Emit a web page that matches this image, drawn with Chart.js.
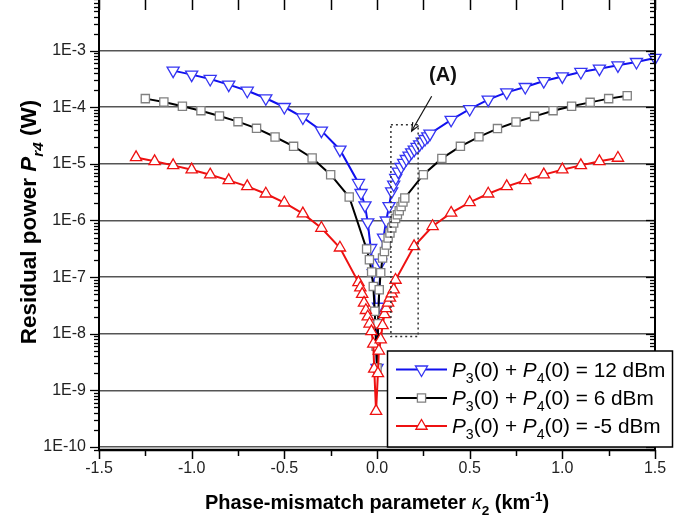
<!DOCTYPE html>
<html><head><meta charset="utf-8">
<script src="https://cdn.jsdelivr.net/npm/chart.js@4.4.1/dist/chart.umd.min.js"></script>
<style>
html,body{margin:0;padding:0;background:#fff;overflow:hidden;width:695px;height:520px;}
#wrap{position:absolute;left:0;top:-6px;width:695px;height:526px;}
</style></head><body>
<div id="wrap"><canvas id="c" width="695" height="526"></canvas></div>
<script>
// ---------- data ----------
const blueX = [-1.1,-1.0,-0.9,-0.8,-0.7,-0.6,-0.5,-0.4,-0.3,-0.2,-0.1,-0.086,-0.065,-0.05,-0.034,-0.02,-0.008,0.0,
  0.008,0.02,0.035,0.05,0.065,0.079,0.09,0.101,0.115,0.13,0.144,0.158,0.173,0.187,0.201,0.216,0.23,0.244,0.259,0.274,0.286,
  0.4,0.5,0.6,0.7,0.8,0.9,1.0,1.1,1.2,1.3,1.4,1.5];
const blueY = [4.43e-4,3.77e-4,3.16e-4,2.51e-4,1.96e-4,1.44e-4,1.01e-4,6.6e-5,3.86e-5,1.78e-5,4.6e-6,3.06e-6,1.85e-6,9.25e-7,3.27e-7,1.18e-7,2.0e-8,2.5e-9,
  3.0e-8,1.8e-7,5.0e-7,1.0e-6,1.8e-6,3.27e-6,4.3e-6,5.64e-6,7.28e-6,8.8e-6,1.04e-5,1.22e-5,1.40e-5,1.60e-5,1.78e-5,1.99e-5,2.21e-5,2.47e-5,2.75e-5,3.06e-5,3.42e-5,
  6.0e-5,9.3e-5,1.36e-4,1.83e-4,2.28e-4,2.9e-4,3.5e-4,4.2e-4,4.8e-4,5.5e-4,6.3e-4,7.43e-4];

const blackX = [-1.25,-1.15,-1.05,-0.95,-0.85,-0.75,-0.65,-0.55,-0.45,-0.35,-0.25,-0.15,-0.056,-0.041,-0.029,-0.02,-0.012,-0.005,0.0,
  0.005,0.012,0.02,0.03,0.04,0.05,0.06,0.07,0.08,0.09,0.10,0.11,0.12,0.13,0.14,0.15,
  0.25,0.35,0.45,0.55,0.65,0.75,0.85,0.95,1.05,1.15,1.25,1.35];
const blackY = [1.42e-4,1.24e-4,1.04e-4,8.7e-5,7.0e-5,5.57e-5,4.24e-5,2.98e-5,2.04e-5,1.27e-5,6.44e-6,2.6e-6,3.13e-7,2.03e-7,1.23e-7,6.86e-8,2.5e-8,6.0e-9,2.5e-9,
  1.5e-8,6.0e-8,1.2e-7,2.17e-7,2.84e-7,3.7e-7,4.9e-7,6.0e-7,7.4e-7,9.0e-7,1.08e-6,1.26e-6,1.49e-6,1.77e-6,2.12e-6,2.5e-6,
  6.44e-6,1.25e-5,2.04e-5,3.0e-5,4.2e-5,5.5e-5,6.9e-5,8.7e-5,1.04e-4,1.22e-4,1.42e-4,1.6e-4];

const redX = [-1.3,-1.2,-1.1,-1.0,-0.9,-0.8,-0.7,-0.6,-0.5,-0.4,-0.3,-0.2,-0.1,-0.09,-0.08,-0.07,-0.06,-0.05,-0.04,-0.03,-0.02,-0.015,-0.005,
  0.005,0.01,0.02,0.03,0.04,0.05,0.06,0.07,0.08,0.09,0.1,0.2,0.3,0.4,0.5,0.6,0.7,0.8,0.9,1.0,1.1,1.2,1.3];
const redY = [1.30e-5,1.11e-5,9.4e-6,7.9e-6,6.44e-6,5.12e-6,4.01e-6,2.97e-6,2.06e-6,1.32e-6,7.36e-7,3.30e-7,8.1e-8,6.5e-8,5.0e-8,3.5e-8,2.6e-8,2.0e-8,1.5e-8,1.1e-8,6.6e-9,2.4e-9,4.3e-10,
  2.0e-9,5.0e-9,7.9e-9,1.4e-8,2.2e-8,2.8e-8,3.5e-8,4.3e-8,5.1e-8,6.0e-8,8.9e-8,3.5e-7,7.9e-7,1.36e-6,2.09e-6,2.97e-6,4.0e-6,5.1e-6,6.45e-6,7.9e-6,9.4e-6,1.11e-5,1.27e-5];

const seriesPower = ['12', '6', '-5'];          // P3(0)+P4(0) in dBm
const xTicks = [-1.5,-1.0,-0.5,0.0,0.5,1.0,1.5];
const xMinorTicks = [-1.25,-0.75,-0.25,0.25,0.75,1.25];
const yTicks = [1e-10,1e-9,1e-8,1e-7,1e-6,1e-5,1e-4,1e-3];

// annotation (data space)
const boxA = {x0:0.075, x1:0.222, y0:8.9e-9, y1:4.9e-5};
const arrowA = {x0:0.295, y0:1.56e-4, x1:0.187, y1:3.8e-5};
const labelA = {x:0.356, y:3.6e-4, text:'(A)'};

// ---------- style ----------
const FONT = "'Liberation Sans', Arial, Helvetica, sans-serif";
Chart.defaults.font.family = FONT;
const OFF = 6; // canvas y = page y + OFF
const BLUE = '#1010ee', BLUE_M = '#3535f2';
const RED = '#ee1111';
const BLACK = '#000000', GRAY_M = '#808080';

const styles = [
  {line: BLUE, mark: BLUE_M, pointStyle:'triangle', rotation:180, radius:7},
  {line: BLACK, mark: GRAY_M, pointStyle:'rect', rotation:0, radius:5.8},
  {line: RED, mark: RED, pointStyle:'triangle', rotation:0, radius:6.5}
];

function pts(xs, ys){ return xs.map((x,i)=>({x:x, y:ys[i]})); }
function mkDs(label, xs, ys, st, order){
  return {label, data:pts(xs,ys), borderColor:st.line, borderWidth:2, backgroundColor:'#fff',
    pointStyle:st.pointStyle, pointRotation:st.rotation, pointRadius:st.radius, pointBorderColor:st.mark,
    pointBackgroundColor:'#fff', pointBorderWidth:1.3, pointHoverRadius:st.radius, tension:0, clip:false, order};
}

function drawRich(ctx, segs, x, y, size, align){
  const parts = segs.map(s=>{
    const small = s.sub || s.sup;
    const fs = small ? size*0.68 : size;
    const font = (s.i?'italic ':'') + (s.b?'bold ':'') + fs.toFixed(1) + 'px ' + FONT;
    ctx.font = font;
    const w = ctx.measureText(s.t).width;
    const dy = s.sub ? size*0.3 : (s.sup ? -size*0.4 : 0);
    return {t:s.t, font, w, dy};
  });
  const total = parts.reduce((a,p)=>a+p.w,0);
  let cx = align==='center' ? x-total/2 : x;
  ctx.textAlign='left'; ctx.textBaseline='alphabetic';
  for(const p of parts){ ctx.font=p.font; ctx.fillText(p.t,cx,y+p.dy); cx+=p.w; }
  return total;
}

const decor = {
  id:'decor',
  afterDraw(chart){
    const ctx = chart.ctx, ca = chart.chartArea, xs = chart.scales.x, ys = chart.scales.y;
    const L=ca.left, R=ca.right, T=ca.top, B=ca.bottom;
    ctx.save();
    // axis lines
    ctx.strokeStyle='#000'; ctx.lineCap='butt';
    ctx.lineWidth=2;
    ctx.beginPath(); ctx.moveTo(L,T); ctx.lineTo(L,B+1); ctx.stroke();
    ctx.beginPath(); ctx.moveTo(R,T); ctx.lineTo(R,B+1); ctx.stroke();
    ctx.lineWidth=2.5;
    ctx.beginPath(); ctx.moveTo(L-1,B); ctx.lineTo(R+1,B); ctx.stroke();
    ctx.lineWidth=2;
    ctx.beginPath(); ctx.moveTo(L,T); ctx.lineTo(R,T); ctx.stroke();
    // y ticks
    ctx.lineWidth=1.3;
    for(let d=-11; d<=-2; d++){
      for(let m=1; m<=9; m++){
        const v = m*Math.pow(10,d);
        if(v<ys.min || v>ys.max) continue;
        const py = Math.round(ys.getPixelForValue(v))+0.5;
        const major = m===1;
        ctx.beginPath(); ctx.moveTo(L-(major?9:5),py); ctx.lineTo(L,py); ctx.stroke();
        ctx.beginPath(); ctx.moveTo(R,py); ctx.lineTo(R-(major?9:5),py); ctx.stroke();
      }
    }
    // x ticks
    ctx.lineWidth=1.5;
    for(const v of xTicks.concat(xMinorTicks)){
      const major = xTicks.includes(v);
      const px = Math.round(xs.getPixelForValue(v))+0.5;
      ctx.beginPath(); ctx.moveTo(px,B); ctx.lineTo(px,B+(major?9:6)); ctx.stroke();
      ctx.beginPath(); ctx.moveTo(px,T); ctx.lineTo(px,T+16); ctx.stroke();
    }
    // box A (dotted)
    ctx.strokeStyle='#333'; ctx.lineWidth=1.5; ctx.setLineDash([2,3]);
    const bx0=xs.getPixelForValue(boxA.x0), bx1=xs.getPixelForValue(boxA.x1);
    const by0=ys.getPixelForValue(boxA.y1), by1=ys.getPixelForValue(boxA.y0);
    ctx.strokeRect(bx0,by0,bx1-bx0,by1-by0);
    ctx.setLineDash([]);
    // arrow
    const ax0=xs.getPixelForValue(arrowA.x0), ay0=ys.getPixelForValue(arrowA.y0);
    const ax1=xs.getPixelForValue(arrowA.x1), ay1=ys.getPixelForValue(arrowA.y1);
    ctx.strokeStyle='#111'; ctx.lineWidth=1.2;
    ctx.beginPath(); ctx.moveTo(ax0,ay0); ctx.lineTo(ax1,ay1); ctx.stroke();
    const ang=Math.atan2(ay1-ay0,ax1-ax0);
    ctx.beginPath();
    ctx.moveTo(ax1-9*Math.cos(ang-0.4), ay1-9*Math.sin(ang-0.4));
    ctx.lineTo(ax1,ay1);
    ctx.lineTo(ax1-9*Math.cos(ang+0.4), ay1-9*Math.sin(ang+0.4));
    ctx.stroke();
    // (A)
    ctx.fillStyle='#111'; ctx.font='bold 20px '+FONT; ctx.textAlign='center'; ctx.textBaseline='middle';
    ctx.fillText(labelA.text, xs.getPixelForValue(labelA.x), ys.getPixelForValue(labelA.y));
    // axis titles
    ctx.fillStyle='#000';
    drawRich(ctx,[{t:'Phase-mismatch parameter ',b:1},{t:'κ',i:1},{t:'2',sub:1,b:1},{t:' (km',b:1},{t:'-1',sup:1,b:1},{t:')',b:1}],
      (L+R)/2, 509+OFF, 20, 'center');
    ctx.save();
    ctx.translate(36, 222+OFF); ctx.rotate(-Math.PI/2);
    drawRich(ctx,[{t:'Residual power ',b:1},{t:'P',i:1,b:1},{t:'r4',i:1,b:1,sub:1},{t:' (W)',b:1}], 0, 0, 22.5, 'center');
    ctx.restore();
    // legend
    const lx0=387.5, lx1=672.5, ly0=351+OFF, ly1=447+OFF;
    ctx.fillStyle='#fff'; ctx.fillRect(lx0,ly0,lx1-lx0,ly1-ly0);
    ctx.strokeStyle='#000'; ctx.lineWidth=1.5; ctx.strokeRect(lx0,ly0,lx1-lx0,ly1-ly0);
    const rows=[369.5+OFF,398+OFF,426+OFF];
    rows.forEach((ry,i)=>{
      const st=styles[i];
      ctx.strokeStyle=st.line; ctx.lineWidth=2;
      ctx.beginPath(); ctx.moveTo(396,ry); ctx.lineTo(447,ry); ctx.stroke();
      ctx.strokeStyle=st.mark; ctx.fillStyle='#fff'; ctx.lineWidth=1.3;
      Chart.helpers.drawPoint(ctx,{pointStyle:st.pointStyle, radius:st.radius, rotation:st.rotation, borderWidth:1.3}, 421.5, ry);
      ctx.fillStyle='#000';
      drawRich(ctx,[{t:'P',i:1},{t:'3',sub:1},{t:'(0) + '},{t:'P',i:1},{t:'4',sub:1},{t:'(0) = '+seriesPower[i]+' dBm'}], 452, ry+7, 20.8, 'left');
    });
    ctx.restore();
  }
};

new Chart(document.getElementById('c'), {
  type:'line',
  data:{datasets:[
    mkDs('P3(0) + P4(0) = 12 dBm', blueX, blueY, styles[0], 2),
    mkDs('P3(0) + P4(0) = 6 dBm', blackX, blackY, styles[1], 1),
    mkDs('P3(0) + P4(0) = -5 dBm', redX, redY, styles[2], 0)
  ]},
  options:{
    responsive:false, animation:false, devicePixelRatio:1,
    layout:{autoPadding:false, padding:{left:0,right:40,top:0,bottom:0}},
    plugins:{legend:{display:false}, tooltip:{enabled:false}},
    scales:{
      x:{type:'linear', min:-1.5, max:1.5,
        afterBuildTicks:(s)=>{ s.ticks = xTicks.map(v=>({value:v})); },
        afterFit:(s)=>{ s.height=70; s.paddingLeft=0; s.paddingRight=0; },
        ticks:{callback:(v)=>Number(v).toFixed(1), color:'#222', font:{size:16, family:FONT}, padding:9, maxRotation:0, autoSkip:false},
        grid:{display:false, drawTicks:false}, border:{display:false}},
      y:{type:'logarithmic', min:8.85e-11, max:1e-2,
        afterBuildTicks:(s)=>{ s.ticks = yTicks.map(v=>({value:v})); },
        afterFit:(s)=>{ s.width=99; s.paddingTop=0; s.paddingBottom=0; },
        ticks:{callback:(v)=>'1E'+Math.round(Math.log10(v)), color:'#222', font:{size:16, family:FONT, lineHeight:0.05}, padding:13, autoSkip:false},
        grid:{color:'#555', lineWidth:1.5, drawTicks:false}, border:{display:false}}
    }
  },
  plugins:[decor]
});
</script>
</body></html>
